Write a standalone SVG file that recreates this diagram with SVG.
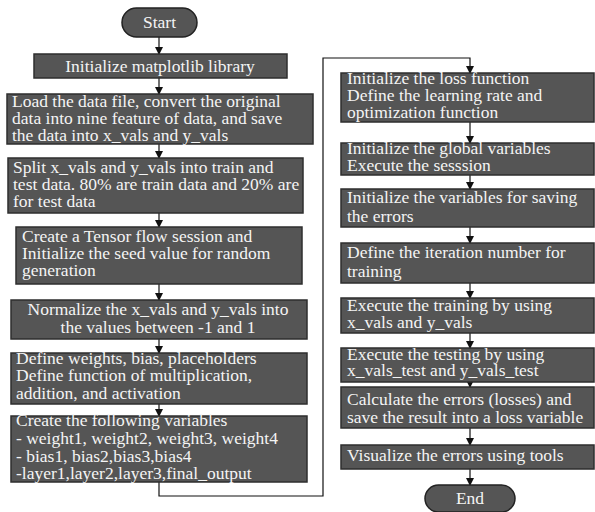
<svg xmlns="http://www.w3.org/2000/svg" width="595" height="512" viewBox="0 0 595 512">
<defs>
<marker id="ah" markerWidth="8" markerHeight="8" refX="7" refY="4" orient="auto" markerUnits="userSpaceOnUse">
<path d="M0,0 L8,4 L0,8 Z" fill="#111"/>
</marker>
<style>
.box{fill:#555;stroke:#2e2e2e;stroke-width:1.5}
.term{fill:#555;stroke:#222;stroke-width:1.5}
.t{font-family:"Liberation Serif","Times New Roman",serif;font-size:17.5px;fill:#f4f4f4}
.c{text-anchor:middle}
.ln{fill:none;stroke:#111;stroke-width:1.2}
</style>
</defs>
<rect width="595" height="512" fill="#fff"/>
<g id="connectors">
<line class="ln" x1="159" y1="37" x2="159" y2="54" marker-end="url(#ah)"/>
<line class="ln" x1="159" y1="78" x2="159" y2="94" marker-end="url(#ah)"/>
<line class="ln" x1="159" y1="144" x2="159" y2="158" marker-end="url(#ah)"/>
<line class="ln" x1="159" y1="213" x2="159" y2="227" marker-end="url(#ah)"/>
<line class="ln" x1="159" y1="284" x2="159" y2="300" marker-end="url(#ah)"/>
<line class="ln" x1="159" y1="339" x2="159" y2="353" marker-end="url(#ah)"/>
<line class="ln" x1="159" y1="404" x2="159" y2="416" marker-end="url(#ah)"/>
<polyline class="ln" points="159,482 159,496 323,496 323,58 470,58 470,73" marker-end="url(#ah)"/>
<line class="ln" x1="470" y1="122" x2="470" y2="143" marker-end="url(#ah)"/>
<line class="ln" x1="470" y1="175" x2="470" y2="189" marker-end="url(#ah)"/>
<line class="ln" x1="470" y1="227" x2="470" y2="243" marker-end="url(#ah)"/>
<line class="ln" x1="470" y1="283" x2="470" y2="298" marker-end="url(#ah)"/>
<line class="ln" x1="470" y1="333" x2="470" y2="348" marker-end="url(#ah)"/>
<line class="ln" x1="470" y1="382" x2="470" y2="387" marker-end="url(#ah)"/>
<line class="ln" x1="470" y1="428" x2="470" y2="445" marker-end="url(#ah)"/>
<line class="ln" x1="470" y1="469" x2="470" y2="485" marker-end="url(#ah)"/>
</g>
<g id="start">
<rect class="term" x="122" y="8" width="75" height="29" rx="14.5"/>
<text class="t c" x="159.5" y="28">Start</text>
</g>
<g id="n1">
<rect class="box" x="34" y="54" width="253" height="24"/>
<text class="t c" x="160" y="72">Initialize matplotlib library</text>
</g>
<g id="n2">
<rect class="box" x="7" y="94" width="306" height="50"/>
<text class="t" x="12"><tspan x="12" y="107">Load the data file, convert the original</tspan><tspan x="12" y="124">data into nine feature of data, and save</tspan><tspan x="12" y="141">the data into x_vals and y_vals</tspan></text>
</g>
<g id="n3">
<rect class="box" x="8" y="158" width="295" height="55"/>
<text class="t"><tspan x="13" y="173">Split x_vals and y_vals into train and</tspan><tspan x="13" y="190">test data. 80% are train data and 20% are</tspan><tspan x="13" y="207">for test data</tspan></text>
</g>
<g id="n4">
<rect class="box" x="16" y="227" width="286" height="57"/>
<text class="t"><tspan x="22" y="242">Create a Tensor flow session and</tspan><tspan x="22" y="259">Initialize the seed value for random</tspan><tspan x="22" y="276">generation</tspan></text>
</g>
<g id="n5">
<rect class="box" x="11" y="300" width="296" height="39"/>
<text class="t c"><tspan x="158" y="315">Normalize the x_vals and y_vals into</tspan><tspan x="158" y="333">the values between -1 and 1</tspan></text>
</g>
<g id="n6">
<rect class="box" x="11" y="353" width="296" height="51"/>
<text class="t"><tspan x="16" y="364">Define weights, bias, placeholders</tspan><tspan x="16" y="381">Define function of multiplication,</tspan><tspan x="16" y="399">addition, and activation</tspan></text>
</g>
<g id="n7">
<rect class="box" x="11" y="416" width="296" height="66"/>
<text class="t"><tspan x="16" y="426">Create the following variables</tspan><tspan x="16" y="444">- weight1, weight2, weight3, weight4</tspan><tspan x="16" y="462">- bias1, bias2,bias3,bias4</tspan><tspan x="16" y="479">-layer1,layer2,layer3,final_output</tspan></text>
</g>
<g id="r1">
<rect class="box" x="341" y="73" width="253" height="49"/>
<text class="t"><tspan x="347" y="84">Initialize the loss function</tspan><tspan x="347" y="101">Define the learning rate and</tspan><tspan x="347" y="118">optimization function</tspan></text>
</g>
<g id="r2">
<rect class="box" x="341" y="143" width="253" height="32"/>
<text class="t"><tspan x="347" y="154">Initialize the global variables</tspan><tspan x="347" y="171">Execute the sesssion</tspan></text>
</g>
<g id="r3">
<rect class="box" x="341" y="189" width="253" height="38"/>
<text class="t"><tspan x="347" y="203">Initialize the variables for saving</tspan><tspan x="347" y="222">the errors</tspan></text>
</g>
<g id="r4">
<rect class="box" x="341" y="243" width="253" height="40"/>
<text class="t"><tspan x="347" y="258">Define the iteration number for</tspan><tspan x="347" y="277">training</tspan></text>
</g>
<g id="r5">
<rect class="box" x="341" y="298" width="253" height="35"/>
<text class="t"><tspan x="347" y="311">Execute the training by using</tspan><tspan x="347" y="328">x_vals and y_vals</tspan></text>
</g>
<g id="r6">
<rect class="box" x="341" y="348" width="253" height="34"/>
<text class="t"><tspan x="347" y="360">Execute the testing by using</tspan><tspan x="347" y="376">x_vals_test and y_vals_test</tspan></text>
</g>
<g id="r7">
<rect class="box" x="341" y="387" width="253" height="41"/>
<text class="t"><tspan x="347" y="405">Calculate the errors (losses) and</tspan><tspan x="347" y="423">save the result into a loss variable</tspan></text>
</g>
<g id="r8">
<rect class="box" x="341" y="445" width="253" height="24"/>
<text class="t"><tspan x="347" y="461">Visualize the errors using tools</tspan></text>
</g>
<g id="end">
<rect class="term" x="425" y="485" width="90" height="27" rx="13.5"/>
<text class="t c" x="470" y="504">End</text>
</g>
</svg>
